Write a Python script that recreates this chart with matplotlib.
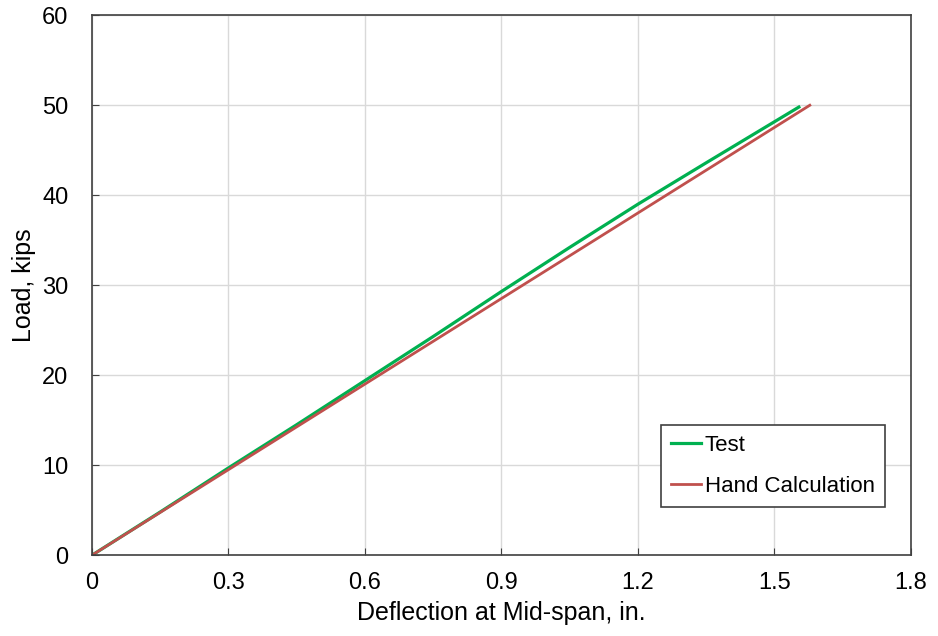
import matplotlib
matplotlib.use("Agg")
import matplotlib.pyplot as plt

plt.rcParams['font.family'] = ['Liberation Sans', 'DejaVu Sans']

# test data (deflection in., load kips)
test_defl = [0.0, 0.15, 0.3, 0.45, 0.6, 0.75, 0.9, 1.05, 1.2, 1.35, 1.554]
test_load = [0.0, 4.8, 9.7, 14.5, 19.4, 24.3, 29.3, 34.2, 39.0, 43.6, 49.8]

# hand calculation
hand_defl = [0.0, 1.578]
hand_load = [0.0, 50.0]

x_ticks = [0, 0.3, 0.6, 0.9, 1.2, 1.5, 1.8]
x_labels = ["0", "0.3", "0.6", "0.9", "1.2", "1.5", "1.8"]
y_ticks = [0, 10, 20, 30, 40, 50, 60]

fig = plt.figure(figsize=(9.38, 6.36), dpi=100)
ax = fig.add_axes([0.098, 0.127, 0.873, 0.849])

ax.plot(test_defl, test_load, color='#00B050', linewidth=2.3, label='Test')
ax.plot(hand_defl, hand_load, color='#C0504D', linewidth=2.0, label='Hand Calculation')

ax.set_xlim(0, 1.8)
ax.set_ylim(0, 60)
ax.set_xticks(x_ticks)
ax.set_xticklabels(x_labels)
ax.set_yticks(y_ticks)
ax.tick_params(direction='in', labelsize=17, colors='#404040', labelcolor='black', length=5)
ax.tick_params(axis='x', pad=12)
ax.tick_params(axis='y', pad=17)
ax.grid(True, color='#D9D9D9', linewidth=1.0)
ax.set_axisbelow(True)
for s in ax.spines.values():
    s.set_color('#404040')
    s.set_linewidth(1.2)

ax.set_xlabel('Deflection at Mid-span, in.', fontsize=18, labelpad=5)
ax.set_ylabel('Load, kips', fontsize=18, labelpad=4)

leg = ax.legend(loc='upper right', bbox_to_anchor=(0.968, 0.241), fontsize=16,
                handlelength=1.35, handletextpad=0.18, borderpad=0.45, labelspacing=0.9,
                fancybox=False, framealpha=1, edgecolor='#404040', borderaxespad=0)
leg.get_frame().set_linewidth(1.2)

plt.savefig('out.png', dpi=100)
